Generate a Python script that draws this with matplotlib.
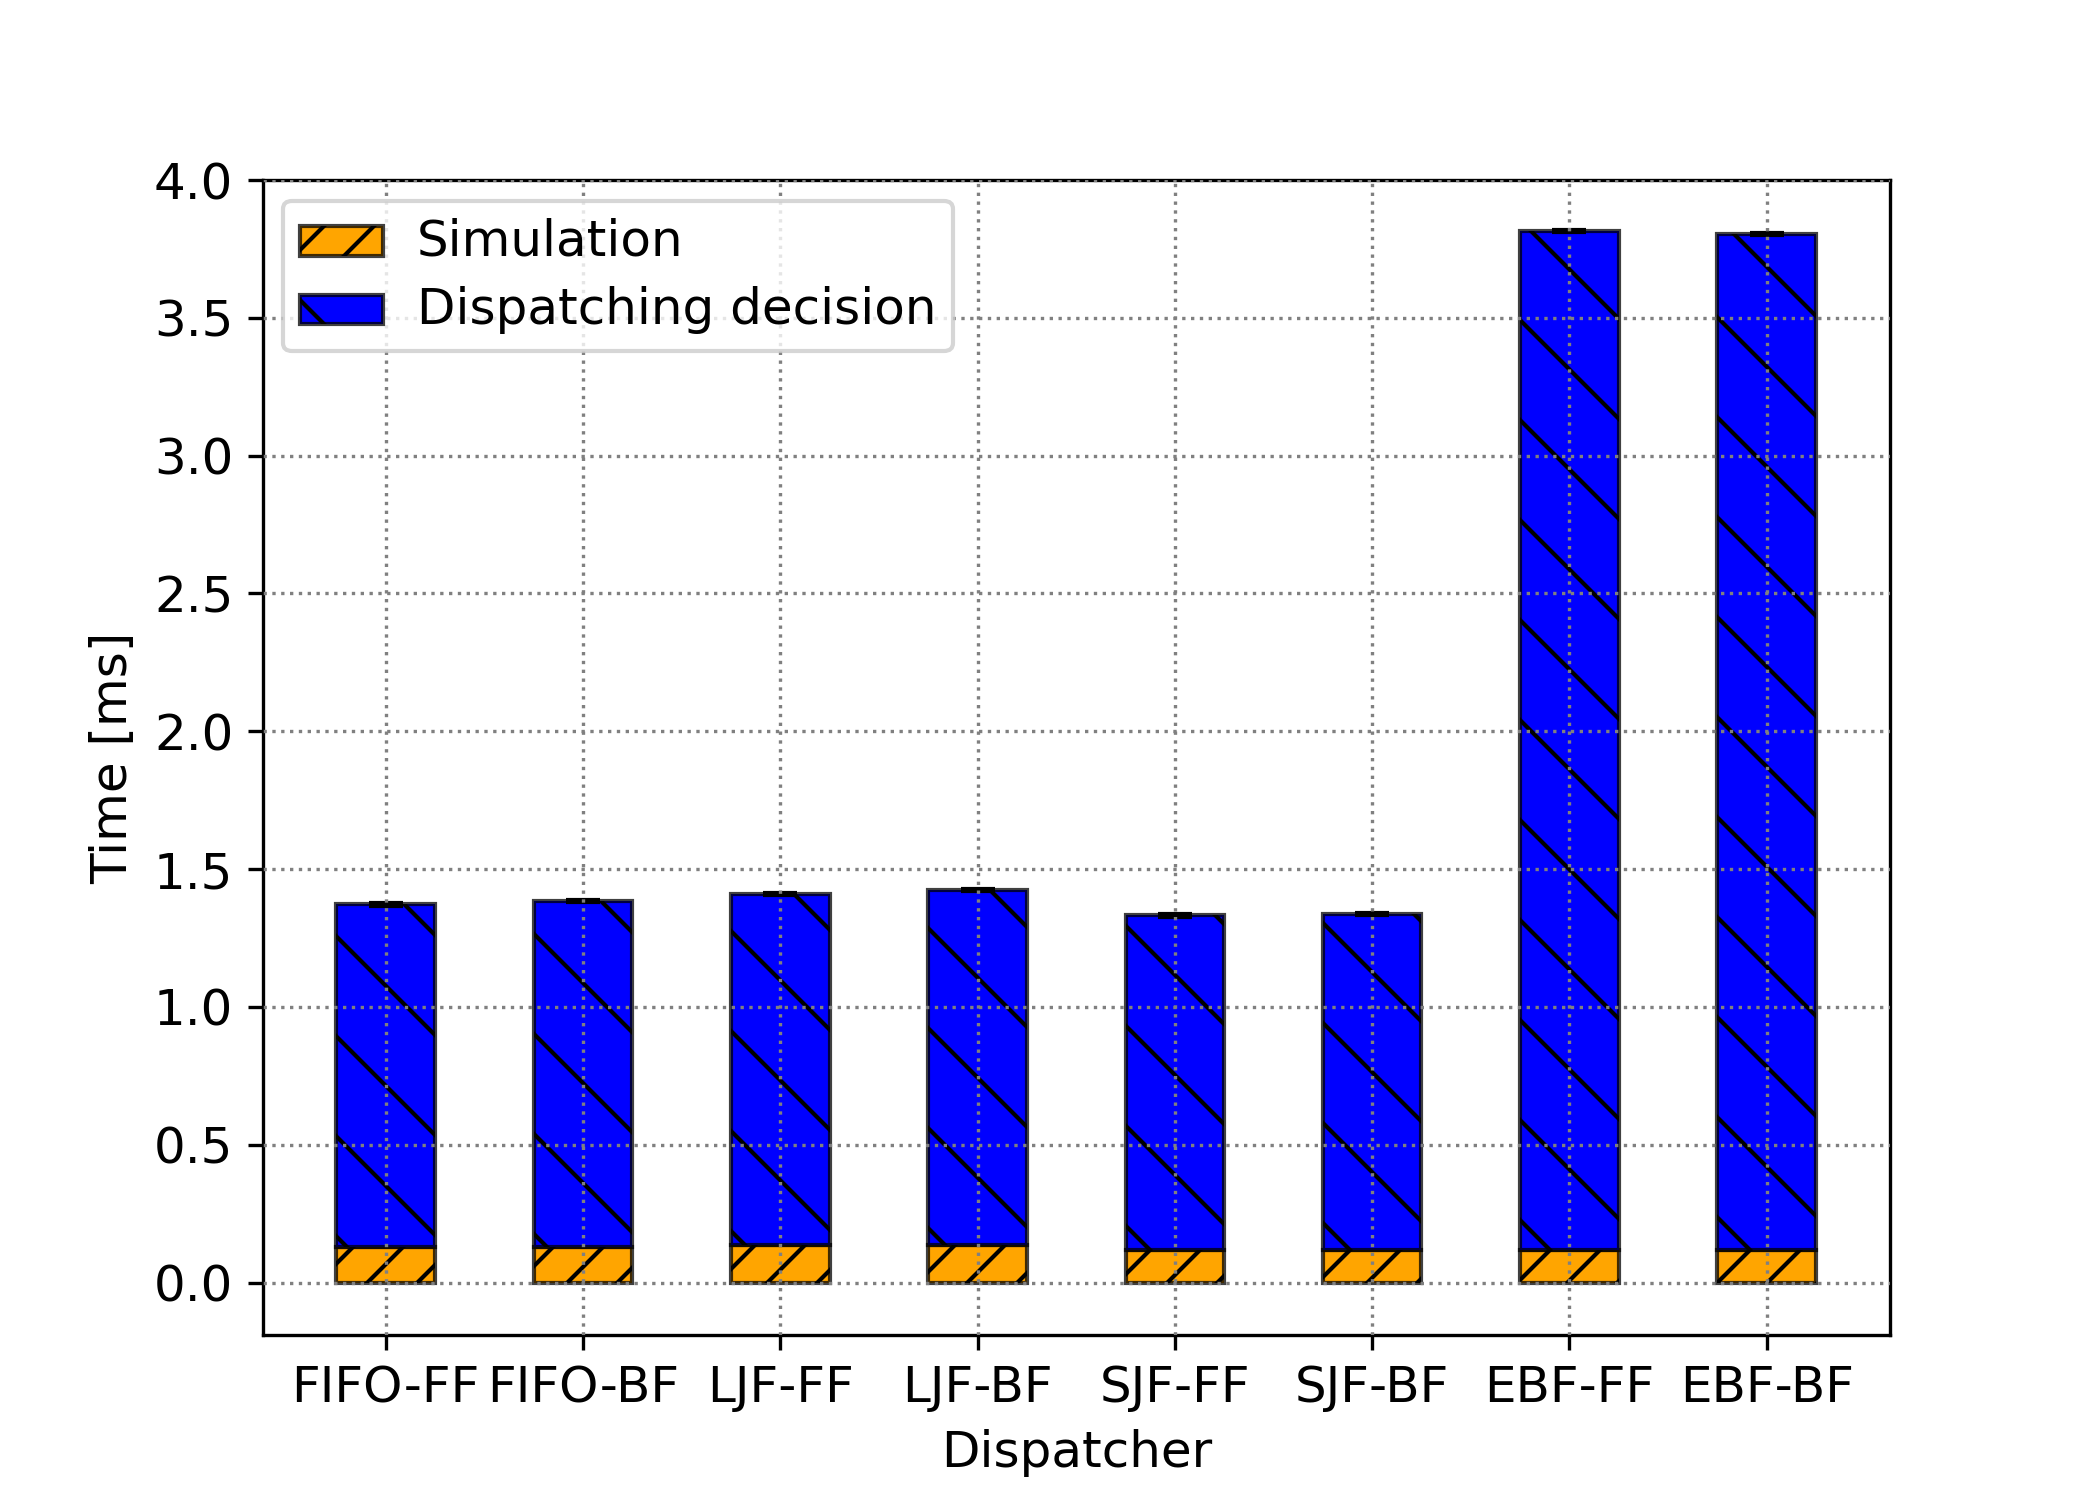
import numpy as np
import matplotlib
matplotlib.use("Agg")
import matplotlib.pyplot as plt
from matplotlib.colors import to_rgba

dispatchers = ["FIFO-FF", "FIFO-BF", "LJF-FF", "LJF-BF", "SJF-FF", "SJF-BF", "EBF-FF", "EBF-BF"]
simulation = [0.130, 0.130, 0.137, 0.138, 0.120, 0.120, 0.118, 0.120]
dispatching = [1.242, 1.253, 1.274, 1.287, 1.212, 1.218, 3.697, 3.683]
dispatching_err = [0.004, 0.004, 0.004, 0.004, 0.004, 0.004, 0.004, 0.004]

plt.rcParams['font.size'] = 10
plt.rcParams['hatch.color'] = 'black'

fig, ax = plt.subplots(figsize=(7, 5), dpi=300)
x = np.arange(len(dispatchers))
edge = (0, 0, 0, 0.75)
b1 = ax.bar(x, simulation, width=0.5, color='orange', edgecolor=edge, linewidth=1.0,
            hatch='//', label='Simulation')
b2 = ax.bar(x, dispatching, width=0.5, bottom=simulation, color='blue', edgecolor=edge,
            linewidth=1.0, hatch='\\', yerr=dispatching_err, capsize=4,
            error_kw=dict(ecolor='black', elinewidth=1), label='Dispatching decision')
for p in list(b1) + list(b2):
    p._hatch_color = to_rgba('black')

ax.set_xticks(x)
ax.set_xticklabels(dispatchers)
ax.tick_params(labelsize=12)
ax.set_ylim(-0.19, 4.0)
ax.set_yticks(np.arange(0, 4.01, 0.5))
ax.set_xlabel('Dispatcher', fontsize=12)
ax.set_ylabel('Time [ms]', fontsize=12)
ax.grid(True, linestyle=':', color='gray')
ax.set_axisbelow(False)
leg = ax.legend(loc='upper left')
for t in leg.get_texts():
    t.set_fontsize(12)

fig.savefig('out.png', dpi=300)
